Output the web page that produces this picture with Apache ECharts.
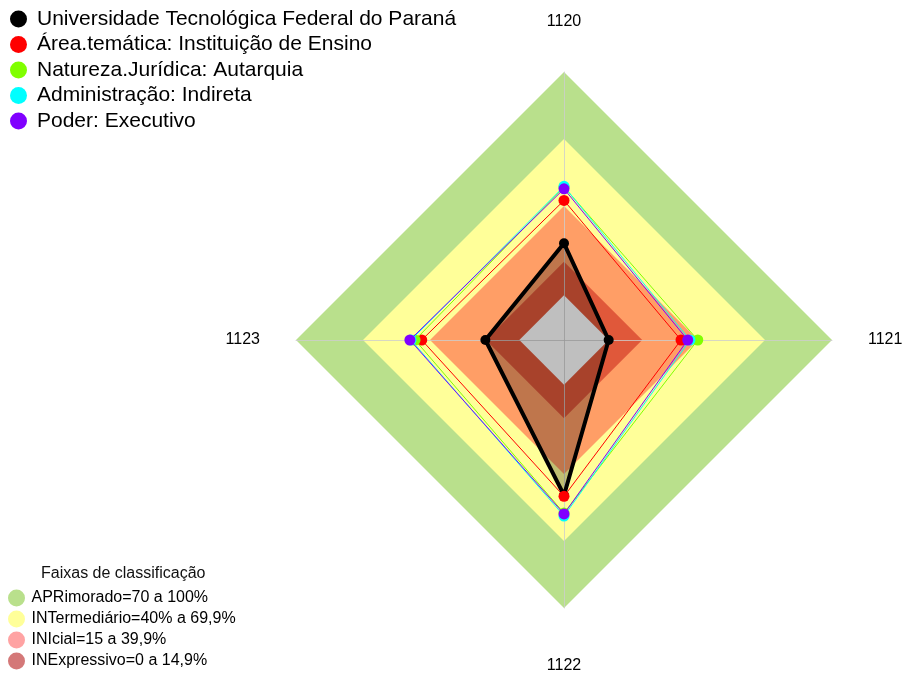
<!DOCTYPE html>
<html>
<head>
<meta charset="utf-8">
<script src="https://cdn.jsdelivr.net/npm/echarts@6/dist/echarts.min.js"></script>
<style>html,body{margin:0;padding:0;background:#fff}#c{width:905px;height:673px}</style>
</head>
<body>
<div id="c"></div>
<script>
// Axis categories (clockwise from top)
var categories = ['1120', '1121', '1122', '1123'];
// Series values (percent), in category order
var seriesNames = [
  'Universidade Tecnológica Federal do Paraná',
  'Área.temática: Instituição de Ensino',
  'Natureza.Jurídica: Autarquia',
  'Administração: Indireta',
  'Poder: Executivo'
];
var utfpr        = [23.3, 0.0, 49.5, 15.2];
var areaTematica = [42.5, 32.4, 50.0, 43.7];
var natureza     = [48.5, 39.9, 57.5, 46.7];
var administracao= [48.8, 36.4, 58.8, 48.5];
var poder        = [47.7, 35.4, 57.9, 49.0];
// Classification bands
var bandNames = ['APRimorado=70 a 100%', 'INTermediário=40% a 69,9%', 'INIcial=15 a 39,9%', 'INExpressivo=0 a 14,9%'];
var bandUpper = [100, 70, 40, 15];
var axisMin = -20, axisMax = 100;

var seriesValues = [utfpr, areaTematica, natureza, administracao, poder];
var seriesColors = ['#000000', '#FF0000', '#80FF00', '#00FFFF', '#8000FF'];
var bandFill = ['#B9E08C', '#FFFF99', '#FF9E66', '#E0583A'];
var bandLegend = ['#B9E08C', '#FFFF99', '#FFA3A3', '#D47878'];

// ECharts lays indicators counterclockwise from top: reorder to get clockwise
var order = [0, 3, 2, 1];
function reorder(arr) { return order.map(function (i) { return arr[i]; }); }

var indicators = reorder(categories).map(function (c) { return { name: c, min: axisMin, max: axisMax }; });

var series = [];
bandUpper.forEach(function (u, i) {
  series.push({
    type: 'radar', name: bandNames[i], z: -1, silent: true, symbol: 'none',
    lineStyle: { width: 0, opacity: 0 },
    itemStyle: { color: bandLegend[i] },
    areaStyle: { color: bandFill[i], opacity: 1 },
    data: [{ value: categories.map(function () { return u; }), name: bandNames[i] }]
  });
});
series.push({
  type: 'radar', name: 'centro', z: -1, silent: true, symbol: 'none',
  lineStyle: { width: 0, opacity: 0 },
  areaStyle: { color: '#FFFFFF', opacity: 1 },
  data: [{ value: categories.map(function () { return 0; }) }]
});
seriesValues.forEach(function (vals, i) {
  var isMain = i === 0;
  series.push({
    type: 'radar', name: seriesNames[i], z: 2 + i, silent: true,
    symbol: 'circle', symbolSize: isMain ? 10 : 11,
    itemStyle: { color: seriesColors[i] },
    lineStyle: { color: seriesColors[i], width: isMain ? 4 : 1 },
    areaStyle: isMain ? { color: 'rgba(0,0,0,0.25)', opacity: 1 } : undefined,
    data: [{ value: reorder(vals), name: seriesNames[i] }]
  });
});

var chart = echarts.init(document.getElementById('c'), null, { renderer: 'canvas' });
chart.setOption({
  animation: false,
  backgroundColor: '#ffffff',
  textStyle: { fontFamily: 'Liberation Sans' },
  title: {
    text: 'Faixas de classificação', left: 36, top: 561,
    textStyle: { fontSize: 16, fontWeight: 'normal', color: '#111', fontFamily: 'Liberation Sans' }
  },
  legend: [{
    data: seriesNames, orient: 'vertical', left: 5, top: 3.5, padding: 5,
    icon: 'circle', itemWidth: 27, itemHeight: 17, itemGap: 4.5,
    textStyle: { fontSize: 21, color: '#000', fontFamily: 'Liberation Sans' },
    selectedMode: false
  }, {
    data: bandNames.map(function (n, i) { return { name: n, itemStyle: { color: bandLegend[i] } }; }),
    orient: 'vertical', left: 3, top: 584.5, height: 100, padding: 5,
    icon: 'circle', itemWidth: 20, itemHeight: 17, itemGap: 4,
    textStyle: { fontSize: 16, color: '#000', fontFamily: 'Liberation Sans' },
    selectedMode: false
  }],
  radar: {
    center: [564, 340], radius: 268, shape: 'polygon', startAngle: 90,
    splitNumber: 1, indicator: indicators, nameGap: 36,
    axisName: { color: '#000', fontSize: 16, fontFamily: 'Liberation Sans', lineHeight: 28, padding: [8, 0, 0, 0] },
    axisLine: { lineStyle: { color: 'rgba(205,205,205,0.8)', width: 1 } },
    splitLine: { show: false },
    splitArea: { show: false },
    axisTick: { show: false },
    axisLabel: { show: false }
  },
  series: series
});
</script>
</body>
</html>
